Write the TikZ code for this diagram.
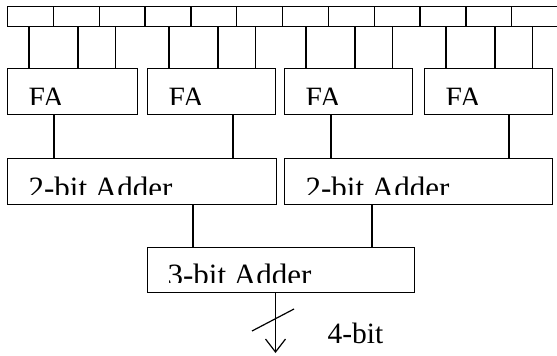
\documentclass[tikz,border=0pt]{standalone}
\usepackage{fontspec}
\setmainfont{Liberation Serif}
\usetikzlibrary{arrows.meta}
\begin{document}
\begin{tikzpicture}[x=1pt,y=-1pt,line width=1.2pt,
  cellbox/.style={draw,rectangle,inner sep=0pt,minimum width=45.83pt,minimum height=20pt,anchor=north west},
  blockbox/.style={draw,rectangle,inner sep=0pt,anchor=north west},
  lbl/.style={inner sep=0pt,anchor=base west,font=\fontsize{29.5}{30}\selectfont},
  biglbl/.style={inner sep=0pt,anchor=base west,font=\fontsize{31}{32}\selectfont},
  wire/.style={draw}]
\useasboundingbox (0,0) rectangle (557,356);
% input register cells
\foreach \i in {1,...,12} {
  \node[cellbox] (c\i) at ({7+45.83*(\i-1)},6) {};
}
% full adders
\node[blockbox,minimum width=130pt,minimum height=46pt] (fa1) at (7,68) {};
\node[blockbox,minimum width=128pt,minimum height=46pt] (fa2) at (147,68) {};
\node[blockbox,minimum width=128pt,minimum height=46pt] (fa3) at (284,68) {};
\node[blockbox,minimum width=128pt,minimum height=46pt] (fa4) at (424,68) {};
% 2-bit adders
\node[blockbox,minimum width=269pt,minimum height=46pt] (ad1) at (7,158) {};
\node[blockbox,minimum width=268pt,minimum height=46pt] (ad2) at (284,158) {};
% 3-bit adder
\node[blockbox,minimum width=267pt,minimum height=45pt] (ad3) at (147,247) {};
% labels (clipped at the bottom as in the reference)
\begin{scope}
\clip (fa1.north west) rectangle ([yshift=-36.5pt]fa4.north east)
      (ad1.north west) rectangle ([yshift=-36pt]ad2.north east)
      (ad3.north west) rectangle ([yshift=-35pt]ad3.north east);
\foreach \k in {1,...,4} {
  \node[lbl] (tfa\k) at ([xshift=21pt,yshift=-39.5pt]fa\k.north west) {FA};
}
\node[biglbl] (tad1) at ([xshift=21pt,yshift=-40pt]ad1.north west) {2-bit Adder};
\node[biglbl] (tad2) at ([xshift=21pt,yshift=-40pt]ad2.north west) {2-bit Adder};
\node[biglbl] (tad3) at ([xshift=20pt,yshift=-38.5pt]ad3.north west) {3-bit Adder};
\end{scope}
% wires from cells to full adders
\foreach \k/\a/\b/\c in {1/1/2/3,2/4/5/6,3/7/8/9,4/10/11/12} {
  \draw ([xshift=22pt]fa\k.north west) -- ([xshift=22pt]fa\k.north west |- c\a.south);
  \draw ([xshift=71pt]fa\k.north west) -- ([xshift=71pt]fa\k.north west |- c\b.south);
  \draw ([xshift=108.5pt]fa\k.north west) -- ([xshift=108.5pt]fa\k.north west |- c\c.south);
}
% full adders to 2-bit adders
\draw ([xshift=47pt]fa1.south west) -- ([xshift=47pt]fa1.south west |- ad1.north);
\draw ([xshift=86pt]fa2.south west) -- ([xshift=86pt]fa2.south west |- ad1.north);
\draw ([xshift=47pt]fa3.south west) -- ([xshift=47pt]fa3.south west |- ad2.north);
\draw ([xshift=85pt]fa4.south west) -- ([xshift=85pt]fa4.south west |- ad2.north);
% 2-bit adders to 3-bit adder
\draw ([xshift=46pt]ad3.north west) -- ([xshift=46pt]ad3.north west |- ad1.south);
\draw ([xshift=225pt]ad3.north west) -- ([xshift=225pt]ad3.north west |- ad2.south);
% output
\coordinate (outend) at (275.5,353);
\draw[-{Straight Barb[length=13pt,width=20pt]}] (ad3.south west -| outend) -- (outend);
\coordinate (sl1) at (252,331);
\coordinate (sl2) at (294,309);
\draw (sl1) -- (sl2);
\node[lbl] (tout) at (327,343.5) {4-bit};
\end{tikzpicture}
\end{document}
